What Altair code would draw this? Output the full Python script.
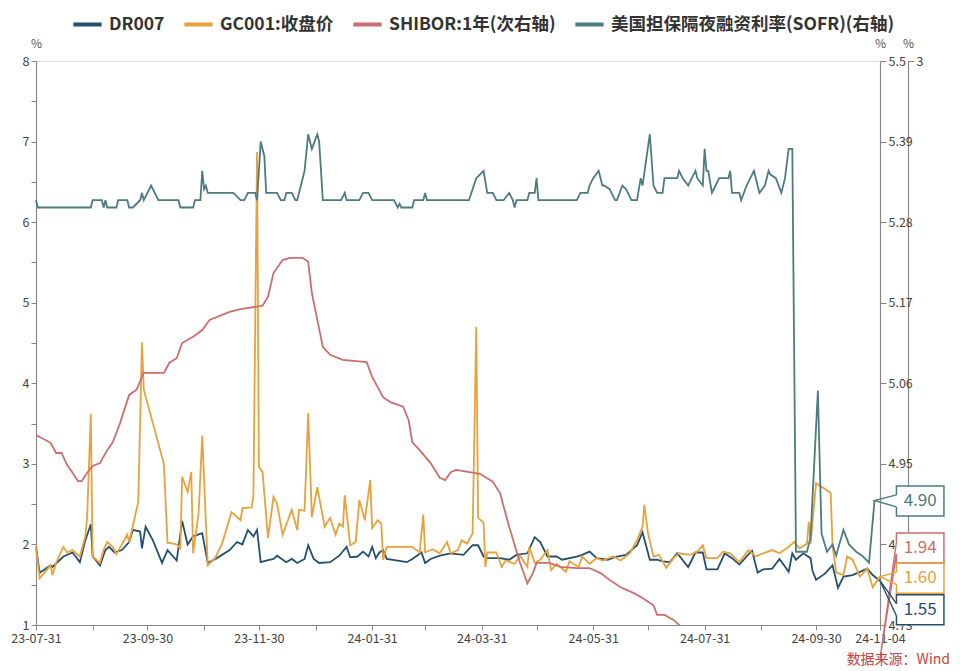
import altair as alt
import pandas as pd

FONT = "Noto Sans CJK SC"

SERIES = ["DR007", "GC001:收盘价", "SHIBOR:1年(次右轴)", "美国担保隔夜融资利率(SOFR)(右轴)"]
COLORS = ["#24506e", "#e9a13b", "#cc6e6e", "#4e7b7f"]

DR007_DATES = ["2023-07-31","2023-08-02","2023-08-08","2023-08-09","2023-08-15","2023-08-20","2023-08-24","2023-08-27","2023-08-30","2023-08-31",
 "2023-09-04","2023-09-07","2023-09-09","2023-09-12","2023-09-16","2023-09-20","2023-09-22","2023-09-26","2023-09-27","2023-09-29",
 "2023-10-03","2023-10-08","2023-10-11","2023-10-16","2023-10-19","2023-10-22","2023-10-25","2023-10-30","2023-11-02","2023-11-07",
 "2023-11-14","2023-11-18","2023-11-21","2023-11-24","2023-11-27","2023-11-29","2023-12-01","2023-12-04","2023-12-08","2023-12-10",
 "2023-12-15","2023-12-18","2023-12-21","2023-12-25","2023-12-27","2023-12-30","2024-01-02","2024-01-08","2024-01-13","2024-01-17",
 "2024-01-19","2024-01-23","2024-01-26","2024-01-29","2024-01-31","2024-02-02","2024-02-04","2024-02-06","2024-02-08","2024-02-14",
 "2024-02-19","2024-02-22","2024-02-27","2024-02-29","2024-03-03","2024-03-08","2024-03-14","2024-03-21","2024-03-26","2024-03-29",
 "2024-04-01","2024-04-03","2024-04-10","2024-04-15","2024-04-19","2024-04-25","2024-04-29","2024-05-02","2024-05-06","2024-05-11",
 "2024-05-14","2024-05-22","2024-05-25","2024-05-29","2024-06-02","2024-06-08","2024-06-13","2024-06-18","2024-06-24","2024-06-27",
 "2024-07-01","2024-07-05","2024-07-08","2024-07-12","2024-07-16","2024-07-22","2024-07-26","2024-07-30","2024-08-01","2024-08-07",
 "2024-08-11","2024-08-15","2024-08-19","2024-08-25","2024-08-26","2024-08-29","2024-09-01","2024-09-06","2024-09-10","2024-09-15",
 "2024-09-17","2024-09-19","2024-09-23","2024-09-27","2024-09-28","2024-09-30","2024-10-05","2024-10-09","2024-10-12","2024-10-15",
 "2024-10-20","2024-10-24","2024-10-28","2024-10-31","2024-11-04"]
DR007_VALUES = [1.97,1.65,1.74,1.72,1.85,1.90,1.78,2.05,2.25,1.85,
 1.74,1.93,1.97,1.90,1.93,2.03,2.18,2.16,1.95,2.22,
 2.05,1.77,1.93,1.80,2.29,2.00,2.10,2.14,1.77,1.83,
 1.93,2.03,2.00,2.18,2.10,2.18,1.78,1.80,1.82,1.86,
 1.78,1.82,1.77,1.82,1.99,1.82,1.77,1.78,1.86,1.97,
 1.84,1.85,1.91,1.85,1.97,1.83,1.90,1.93,1.82,1.80,
 1.78,1.82,1.90,1.77,1.82,1.86,1.89,1.87,1.99,1.99,
 1.85,1.83,1.83,1.81,1.87,1.89,2.09,2.03,1.85,1.85,
 1.81,1.85,1.87,1.91,1.83,1.81,1.85,1.87,1.99,2.15,
 1.81,1.81,1.79,1.78,1.89,1.72,1.90,1.90,1.69,1.69,
 1.89,1.83,1.75,1.90,1.92,1.65,1.69,1.70,1.82,1.66,
 1.89,1.81,1.89,1.83,1.68,1.56,1.64,1.74,1.46,1.60,
 1.62,1.66,1.70,1.62,1.55]

GC001_DATES = ["2023-07-31","2023-08-02","2023-08-08","2023-08-09","2023-08-11","2023-08-15","2023-08-17","2023-08-20","2023-08-24","2023-08-27",
 "2023-08-28","2023-08-30","2023-08-31","2023-09-04","2023-09-06","2023-09-08","2023-09-11","2023-09-13","2023-09-19","2023-09-20",
 "2023-09-25","2023-09-27","2023-09-28","2023-10-09","2023-10-11","2023-10-12","2023-10-16","2023-10-18","2023-10-19","2023-10-22",
 "2023-10-24","2023-10-25","2023-10-28","2023-10-30","2023-11-02","2023-11-06","2023-11-10","2023-11-15","2023-11-20","2023-11-21",
 "2023-11-26","2023-11-27","2023-11-29","2023-11-30","2023-12-02","2023-12-05","2023-12-08","2023-12-10","2023-12-13","2023-12-18",
 "2023-12-21","2023-12-22","2023-12-25","2023-12-27","2023-12-29","2024-01-01","2024-01-05","2024-01-08","2024-01-11","2024-01-13",
 "2024-01-15","2024-01-16","2024-01-19","2024-01-22","2024-01-24","2024-01-27","2024-01-30","2024-01-31","2024-02-03","2024-02-05",
 "2024-02-06","2024-02-08","2024-02-22","2024-02-26","2024-02-28","2024-02-29","2024-03-04","2024-03-08","2024-03-12","2024-03-14",
 "2024-03-18","2024-03-20","2024-03-23","2024-03-26","2024-03-28","2024-03-29","2024-04-01","2024-04-02","2024-04-03","2024-04-08",
 "2024-04-11","2024-04-13","2024-04-18","2024-04-21","2024-04-25","2024-04-26","2024-04-29","2024-05-02","2024-05-06","2024-05-08",
 "2024-05-11","2024-05-16","2024-05-18","2024-05-23","2024-05-25","2024-05-29","2024-06-02","2024-06-05","2024-06-11","2024-06-15",
 "2024-06-20","2024-06-24","2024-06-27","2024-06-28","2024-06-30","2024-07-03","2024-07-06","2024-07-10","2024-07-14","2024-07-17",
 "2024-07-23","2024-07-27","2024-07-30","2024-08-01","2024-08-07","2024-08-10","2024-08-14","2024-08-19","2024-08-24","2024-08-28",
 "2024-09-01","2024-09-06","2024-09-10","2024-09-15","2024-09-18","2024-09-21","2024-09-25","2024-09-26","2024-09-27","2024-09-30",
 "2024-10-08","2024-10-09","2024-10-11","2024-10-15","2024-10-17","2024-10-20","2024-10-24","2024-10-28","2024-10-31","2024-11-04"]
GC001_VALUES = [1.97,1.58,1.74,1.62,1.77,1.97,1.90,1.93,1.85,2.10,
 2.34,3.62,1.85,1.77,1.93,2.03,1.97,1.88,2.12,2.03,
 2.53,4.51,3.92,3.00,2.02,2.02,2.00,1.95,2.84,2.65,
 2.90,1.89,2.39,3.35,1.74,1.83,2.02,2.40,2.30,2.45,
 2.46,2.59,6.87,2.96,2.90,2.08,2.59,2.50,2.12,2.43,
 2.18,2.43,2.42,3.63,2.34,2.71,2.22,2.33,2.12,2.26,
 2.22,2.61,1.99,2.03,2.55,2.30,2.80,2.20,2.30,2.26,
 1.81,1.97,1.97,1.90,2.37,1.90,1.94,1.89,2.03,1.89,
 1.93,2.05,2.01,2.14,4.70,2.33,2.27,1.72,1.90,1.90,
 1.72,1.80,1.76,1.86,1.72,1.97,1.77,1.81,1.93,1.68,
 1.76,1.66,1.79,1.72,1.85,1.76,1.83,1.80,1.85,1.80,
 1.89,2.05,2.22,2.49,2.14,1.85,1.87,1.71,1.83,1.89,
 1.87,1.91,1.99,1.83,1.83,1.91,1.89,1.78,1.93,1.85,
 1.89,1.93,1.89,1.97,2.03,1.95,2.01,2.28,2.01,2.76,
 2.64,1.99,1.65,1.62,1.85,1.81,1.60,1.70,1.47,1.60]

SHIBOR_DATES = ["2023-07-31","2023-08-08","2023-08-11","2023-08-14","2023-08-17","2023-08-20","2023-08-23","2023-08-25","2023-08-28","2023-08-31",
 "2023-09-04","2023-09-08","2023-09-11","2023-09-15","2023-09-20","2023-09-24","2023-09-28","2023-10-09","2023-10-12","2023-10-16",
 "2023-10-19","2023-10-25","2023-10-30","2023-11-03","2023-11-14","2023-11-20","2023-12-02","2023-12-05","2023-12-08","2023-12-13",
 "2023-12-17","2023-12-24","2023-12-27","2023-12-29","2024-01-01","2024-01-04","2024-01-08","2024-01-15","2024-01-28","2024-01-31",
 "2024-02-06","2024-02-10","2024-02-17","2024-02-20","2024-02-22","2024-02-26","2024-03-03","2024-03-08","2024-03-11","2024-03-14",
 "2024-03-17","2024-03-30","2024-04-06","2024-04-10","2024-04-15","2024-04-21","2024-04-25","2024-04-28","2024-04-30","2024-05-07",
 "2024-05-13","2024-05-22","2024-05-29","2024-06-04","2024-06-09","2024-06-15","2024-06-22","2024-06-27","2024-07-03","2024-07-05",
 "2024-07-09","2024-07-14","2024-07-17","2024-07-21","2024-07-28","2024-08-19","2024-09-21","2024-10-19","2024-11-04"]
SHIBOR_VALUES = [2.337,2.323,2.305,2.305,2.284,2.270,2.255,2.255,2.270,2.282,
 2.287,2.310,2.324,2.358,2.408,2.417,2.447,2.447,2.465,2.473,
 2.500,2.511,2.523,2.541,2.555,2.560,2.566,2.582,2.624,2.647,
 2.651,2.651,2.644,2.589,2.541,2.493,2.479,2.470,2.466,2.440,
 2.404,2.395,2.387,2.363,2.324,2.310,2.287,2.261,2.257,2.271,
 2.275,2.268,2.254,2.234,2.174,2.110,2.074,2.092,2.110,2.110,
 2.103,2.101,2.101,2.092,2.080,2.067,2.057,2.048,2.035,2.018,
 2.018,2.009,2.000,1.990,1.980,1.960,1.930,1.930,1.940]

SOFR_DATES = ["2023-07-31","2023-08-01","2023-08-30","2023-08-31","2023-09-05","2023-09-06","2023-09-07","2023-09-08","2023-09-13","2023-09-14",
 "2023-09-19","2023-09-20","2023-09-22","2023-09-26","2023-09-27","2023-09-28","2023-09-30","2023-10-02","2023-10-06","2023-10-17",
 "2023-10-18","2023-10-25","2023-10-26","2023-10-29","2023-10-30","2023-10-31","2023-11-01","2023-11-02","2023-11-16","2023-11-20",
 "2023-11-22","2023-11-24","2023-11-28","2023-11-29","2023-12-01","2023-12-03","2023-12-04","2023-12-10","2023-12-12","2023-12-14",
 "2023-12-15","2023-12-18","2023-12-20","2023-12-21","2023-12-25","2023-12-27","2023-12-29","2024-01-01","2024-01-02","2024-01-04",
 "2024-01-14","2024-01-16","2024-01-17","2024-01-24","2024-01-26","2024-01-29","2024-01-31","2024-02-12","2024-02-14","2024-02-15",
 "2024-02-16","2024-02-22","2024-02-23","2024-02-28","2024-02-29","2024-03-01","2024-03-24","2024-03-28","2024-04-01","2024-04-03",
 "2024-04-06","2024-04-08","2024-04-12","2024-04-15","2024-04-17","2024-04-18","2024-04-19","2024-04-25","2024-04-26","2024-04-29",
 "2024-04-30","2024-05-01","2024-05-22","2024-05-24","2024-05-28","2024-05-29","2024-05-31","2024-06-03","2024-06-05","2024-06-06",
 "2024-06-09","2024-06-12","2024-06-13","2024-06-16","2024-06-18","2024-06-21","2024-06-24","2024-06-26","2024-06-27","2024-07-01",
 "2024-07-03","2024-07-05","2024-07-08","2024-07-09","2024-07-16","2024-07-17","2024-07-19","2024-07-22","2024-07-24","2024-07-26",
 "2024-07-27","2024-07-30","2024-07-31","2024-08-01","2024-08-02","2024-08-04","2024-08-06","2024-08-08","2024-08-13","2024-08-14",
 "2024-08-15","2024-08-19","2024-08-20","2024-08-23","2024-08-25","2024-08-27","2024-08-30","2024-09-02","2024-09-04","2024-09-05",
 "2024-09-08","2024-09-11","2024-09-12","2024-09-13","2024-09-15","2024-09-17","2024-09-19","2024-09-25","2024-09-27","2024-10-01",
 "2024-10-03","2024-10-06","2024-10-09","2024-10-11","2024-10-15","2024-10-18","2024-10-22","2024-10-25","2024-10-29","2024-11-01"]
SOFR_VALUES = [5.31,5.30,5.30,5.31,5.31,5.30,5.31,5.30,5.30,5.31,
 5.31,5.30,5.30,5.31,5.32,5.31,5.32,5.33,5.31,5.31,
 5.30,5.30,5.31,5.31,5.35,5.325,5.33,5.32,5.32,5.31,
 5.31,5.32,5.32,5.31,5.39,5.37,5.32,5.32,5.31,5.31,
 5.32,5.32,5.31,5.31,5.35,5.40,5.38,5.40,5.39,5.31,
 5.31,5.32,5.31,5.31,5.32,5.32,5.31,5.31,5.30,5.305,
 5.30,5.30,5.31,5.31,5.32,5.31,5.31,5.34,5.35,5.32,
 5.32,5.31,5.31,5.32,5.31,5.30,5.31,5.31,5.32,5.32,
 5.34,5.31,5.31,5.32,5.32,5.33,5.34,5.35,5.33,5.33,
 5.325,5.31,5.31,5.33,5.325,5.31,5.31,5.34,5.33,5.40,
 5.33,5.32,5.32,5.34,5.34,5.35,5.34,5.33,5.34,5.35,
 5.34,5.33,5.38,5.35,5.35,5.32,5.33,5.34,5.34,5.35,
 5.32,5.32,5.31,5.33,5.34,5.35,5.32,5.33,5.35,5.345,
 5.34,5.32,5.33,5.34,5.38,5.38,4.83,4.83,4.85,5.05,
 4.855,4.83,4.84,4.825,4.86,4.84,4.83,4.825,4.815,4.90]

LEFT_DOMAIN = [1, 8]
LEFT_TICKS = [1, 1.5, 2, 2.5, 3, 3.5, 4, 4.5, 5, 5.5, 6, 6.5, 7, 7.5, 8]
SOFR_DOMAIN = [4.73, 5.5]
SOFR_TICKS = [5.5, 5.39, 5.28, 5.17, 5.06, 4.95, 4.84, 4.73]
SHIBOR_DOMAIN = [2.0, 3.0]
SHIBOR_TICKS = [3]
X_START, X_END = "2023-07-31", "2024-11-04"
X_TICKS = ["2023-07-31", "2023-08-31", "2023-09-30", "2023-10-31", "2023-11-30", "2023-12-31",
           "2024-01-31", "2024-02-29", "2024-03-31", "2024-04-30", "2024-05-31", "2024-06-30",
           "2024-07-31", "2024-08-31", "2024-09-30", "2024-11-04"]

# end-value tags (order: SOFR, SHIBOR, GC001, DR007)
TAG_TEXT = ["4.90", "1.94", "1.60", "1.55"]
TAG_SLOTS = [2.54, 1.955, 1.58, 1.19]   # left-axis units where each tag box sits
SOURCE_TEXT = "数据来源：Wind"

W, H = 844, 564
PX = (LEFT_DOMAIN[1] - LEFT_DOMAIN[0]) / H  # left-axis units per pixel


def dt(s):
    t = pd.Timestamp(s)
    return alt.DateTime(year=t.year, month=t.month, date=t.day, utc=True)


def shift(s, days):
    return (pd.Timestamp(s) + pd.Timedelta(days=days)).strftime("%Y-%m-%d")


def sofr_to_left(v):
    return LEFT_DOMAIN[0] + (v - SOFR_DOMAIN[0]) / (SOFR_DOMAIN[1] - SOFR_DOMAIN[0]) * (LEFT_DOMAIN[1] - LEFT_DOMAIN[0])


def shibor_to_left(v):
    return LEFT_DOMAIN[0] + (v - SHIBOR_DOMAIN[0]) / (SHIBOR_DOMAIN[1] - SHIBOR_DOMAIN[0]) * (LEFT_DOMAIN[1] - LEFT_DOMAIN[0])


def frame(dates, values, name):
    return pd.DataFrame({"date": dates, "value": values, "series": name})


x_scale = alt.Scale(type="utc", domain=[dt(X_START), dt(X_END)])
x_axis = alt.Axis(
    title=None, values=[dt(s) for s in X_TICKS],
    labelExpr="utcmonth(datum.value) % 2 == 0 ? utcFormat(datum.value, '%y-%m-%d') : ''",
    labelOverlap=False, labelBound=False, labelFlush=False, labelFont=FONT, labelFontSize=12.5,
    labelColor="#444", tickColor="#888", domainColor="#888", domainWidth=1.2, tickSize=5,
    labelPadding=2, grid=False,
)
left_scale = alt.Scale(domain=LEFT_DOMAIN)
left_axis = alt.Axis(
    orient="left", values=LEFT_TICKS, format="~g",
    labelExpr="datum.value % 1 == 0 ? datum.label : ''",
    title="%", titleAngle=0, titleX=0, titleY=-18, titleAlign="center", titleBaseline="middle",
    titleFontWeight="normal", titleFontSize=12, titleColor="#555", titleFont=FONT,
    labelFont=FONT, labelFontSize=12.5, labelColor="#444", tickColor="#888", domainColor="#888",
    domainWidth=1.2, tickSize=5, labelPadding=2, grid=False,
)
sofr_axis = alt.Axis(
    orient="right", values=SOFR_TICKS, format=".2~f",
    title="%", titleAngle=0, titleX=0, titleY=-18, titleAlign="center", titleBaseline="middle",
    titleFontWeight="normal", titleFontSize=12, titleColor="#555", titleFont=FONT,
    labelFont=FONT, labelFontSize=12.5, labelColor="#444", tickColor="#888", domainColor="#888",
    domainWidth=1.2, tickSize=6, labelPadding=2, grid=False,
)
shibor_axis = alt.Axis(
    orient="right", offset=28, values=SHIBOR_TICKS, format="~g",
    title="%", titleAngle=0, titleX=0, titleY=-18, titleAlign="center", titleBaseline="middle",
    titleFontWeight="normal", titleFontSize=12, titleColor="#555", titleFont=FONT,
    labelFont=FONT, labelFontSize=12.5, labelColor="#444", tickColor="#888", domainColor="#888",
    domainWidth=1.2, tickSize=6, labelPadding=2, grid=False,
)

color_scale = alt.Scale(domain=SERIES, range=COLORS)
legend = alt.Legend(
    title=None, orient="none", legendX=35, legendY=-53, direction="horizontal",
    labelFont=FONT, labelFontSize=17.5, labelFontWeight="bold", labelColor="#333", labelLimit=0,
    symbolType="stroke", symbolStrokeWidth=4, symbolSize=800, columnPadding=11, labelOffset=5,
    padding=0,
)

X = lambda f: alt.X(f, scale=x_scale, axis=x_axis)
YL = lambda f: alt.Y(f, scale=left_scale, axis=left_axis)

left_df = pd.concat([frame(DR007_DATES, DR007_VALUES, SERIES[0]),
                     frame(GC001_DATES, GC001_VALUES, SERIES[1])])
shibor_df = frame(SHIBOR_DATES, SHIBOR_VALUES, SERIES[2])
sofr_df = frame(SOFR_DATES, SOFR_VALUES, SERIES[3])

left_lines = alt.Chart(left_df).mark_line(strokeWidth=1.8).encode(
    x=X("date:T"), y=YL("value:Q"),
    color=alt.Color("series:N", scale=color_scale, legend=legend),
)

# tags
tag_colors = [COLORS[3], COLORS[2], COLORS[1], COLORS[0]]
end_dates = [SOFR_DATES[-1], SHIBOR_DATES[-1], GC001_DATES[-1], DR007_DATES[-1]]
end_vals = [sofr_to_left(SOFR_VALUES[-1]), shibor_to_left(SHIBOR_VALUES[-1]), GC001_VALUES[-1], DR007_VALUES[-1]]
half = 15 * PX
notch = 6 * PX
box_left = shift(X_END, 9.3)
box_right = shift(X_END, 35.5)
text_x = shift(X_END, 22.4)

tags = pd.DataFrame({"label": TAG_TEXT, "col": tag_colors, "pos": TAG_SLOTS})
tags["y1"] = tags["pos"] - half
tags["y2"] = tags["pos"] + half
tags["g1"] = tags["pos"] - notch
tags["g2"] = tags["pos"] + notch
tags["x1"] = box_left
tags["x2"] = box_right
tags["xt"] = text_x

rows = []
for i in range(len(TAG_TEXT)):
    rows.append({"label": TAG_TEXT[i], "col": tag_colors[i], "k": 0, "date": box_left, "v": TAG_SLOTS[i] + notch})
    rows.append({"label": TAG_TEXT[i], "col": tag_colors[i], "k": 1, "date": end_dates[i], "v": end_vals[i]})
    rows.append({"label": TAG_TEXT[i], "col": tag_colors[i], "k": 2, "date": box_left, "v": TAG_SLOTS[i] - notch})
ptr = pd.DataFrame(rows)

boxes = alt.Chart(tags).mark_rect(fill="white", strokeWidth=1.5).encode(
    x=X("x1:T"), x2=alt.X2("x2"), y=YL("y1:Q"), y2=alt.Y2("y2"),
    stroke=alt.Stroke("col:N", scale=None),
)
gaps = alt.Chart(tags).mark_rule(color="white", strokeWidth=3).encode(
    x=X("x1:T"), y=YL("g1:Q"), y2=alt.Y2("g2"),
)
pointers = alt.Chart(ptr).mark_line(strokeWidth=1.4).encode(
    x=X("date:T"), y=YL("v:Q"), order="k:O", detail="label:N",
    stroke=alt.Stroke("col:N", scale=None),
)
tag_text = alt.Chart(tags).mark_text(font=FONT, fontSize=17).encode(
    x=X("xt:T"), y=YL("pos:Q"), text="label:N",
    fill=alt.Fill("col:N", scale=None),
)
source = alt.Chart(pd.DataFrame({"t": [SOURCE_TEXT]})).mark_text(
    font=FONT, fontSize=14, color="#c8413b", align="right", baseline="middle"
).encode(x=alt.value(W + 70), y=alt.value(H + 35), text="t:N")

left_group = alt.layer(left_lines, boxes, gaps, pointers, tag_text, source)

shibor_line = alt.Chart(shibor_df).mark_line(strokeWidth=1.8, clip=True).encode(
    x=X("date:T"),
    y=alt.Y("value:Q", scale=alt.Scale(domain=SHIBOR_DOMAIN), axis=shibor_axis),
    color=alt.Color("series:N", scale=color_scale, legend=legend),
)
sofr_line = alt.Chart(sofr_df).mark_line(strokeWidth=1.8).encode(
    x=X("date:T"),
    y=alt.Y("value:Q", scale=alt.Scale(domain=SOFR_DOMAIN), axis=sofr_axis),
    color=alt.Color("series:N", scale=color_scale, legend=legend),
)

chart = alt.layer(left_group, shibor_line, sofr_line).resolve_scale(y="independent").properties(
    width=W, height=H,
    autosize=alt.AutoSizeParams(type="none"),
    padding={"left": 28, "top": 53, "right": 72, "bottom": 46},
).configure_view(stroke=None).configure(font=FONT)

chart.save("out.html", embed_options={"renderer": "svg", "actions": False})
